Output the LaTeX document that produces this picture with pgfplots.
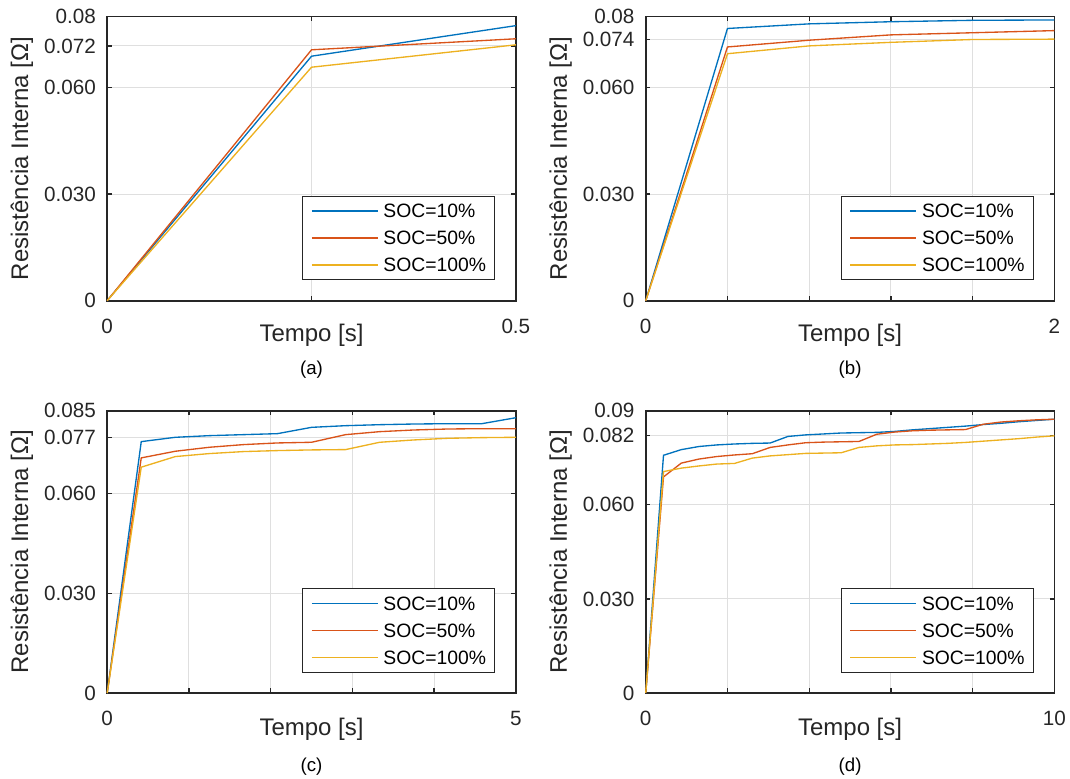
\documentclass[border=0pt]{standalone}
\usepackage{pgfplots}
\pgfplotsset{compat=1.18}
\usepackage{fontspec}
\setmainfont{Liberation Sans}
\definecolor{mblue}{RGB}{0,114,189}
\definecolor{mred}{RGB}{217,83,25}
\definecolor{myel}{RGB}{237,177,32}
\definecolor{axc}{RGB}{38,38,38}
\definecolor{gridc}{RGB}{223,223,223}
\tikzset{
 mylab/.style={font=\fontsize{18}{21}\selectfont, text=axc},
 mycapt/.style={font=\fontsize{14}{16}\selectfont, text=black, anchor=base},
}
\pgfplotsset{
 panel/.style={
  scale only axis, width=306.5pt, enlargelimits=false, clip=false,
  scaled y ticks=false, scaled x ticks=false,
  axis line style={axc, line width=1.3pt},
  every tick/.style={axc, line width=1pt}, major tick length=3.5pt,
  tick align=inside, tick pos=both,
  grid=major, major grid style={gridc, line width=0.8pt},
  /pgf/number format/assume math mode=true,
  tick label style={font=\fontsize{15.5}{18}\selectfont, text=axc},
  xticklabel style={anchor=base, inner sep=0pt, yshift=-24.5pt},
  yticklabel style={anchor=east, inner sep=0pt, xshift=-8.25pt},
  legend cell align=left,
  legend style={draw=axc, line width=0.6pt, fill=white,
    font=\fontsize{14.5}{17}\selectfont, text=black,
    at={(1,0)}, anchor=south east, xshift=-15.75pt, yshift=15.5pt,
    inner xsep=6.25pt, inner ysep=5.8pt, row sep=9.8pt,
    nodes={inner sep=0pt, text height=10.4pt, text depth=0pt},
    /tikz/every odd column/.append style={column sep=3.75pt}},
  legend image code/.code={\draw[#1] (0pt,0pt) -- (49.5pt,0pt);},
  every axis plot/.append style={line width=1pt},
 },
}
\begin{document}
\begin{tikzpicture}
\useasboundingbox (0,0) rectangle (802.5pt,583.5pt);
% (a)
\begin{axis}[panel, at={(80.4pt,358pt)}, anchor=south west, height=213.2pt,
  xmin=0, xmax=0.5, ymin=0, ymax=0.08,
  xtick={0,0.25,0.5}, xticklabels={0,,0.5},
  ytick={0,0.03,0.06,0.0717,0.08}, yticklabels={0,0.030,0.060,0.072,0.08}]
\addplot[mblue] coordinates {(0,0) (0.25,0.0688) (0.5,0.0774)};
\addplot[mred] coordinates {(0,0) (0.25,0.0706) (0.5,0.0737)};
\addplot[myel] coordinates {(0,0) (0.25,0.0657) (0.5,0.0720)};
\legend{SOC=10\%,SOC=50\%,SOC=100\%}
\node[mylab, anchor=base, yshift=-30.75pt] at (axis description cs:0.5,0) {Tempo [s]};
\node[mylab, rotate=90, anchor=center] at (axis description cs:-0.2085,0.5) {Resistência Interna [Ω]};
\node[mycapt, yshift=-55.7pt] at (axis description cs:0.5,0) {(a)};
\end{axis}
% (b)
\begin{axis}[panel, at={(484.3pt,358pt)}, anchor=south west, height=213.2pt,
  xmin=0, xmax=2, ymin=0, ymax=0.08,
  xtick={0,0.4,0.8,1.2,1.6,2}, xticklabels={0,,,,,2},
  ytick={0,0.03,0.06,0.0735,0.08}, yticklabels={0,0.030,0.060,0.074,0.08}]
\addplot[mblue] coordinates {(0,0) (0.4,0.0766) (0.8,0.0779) (1.2,0.0785) (1.6,0.0789) (2,0.0790)};
\addplot[mred] coordinates {(0,0) (0.4,0.0714) (0.8,0.0733) (1.2,0.0748) (1.6,0.0754) (2,0.0760)};
\addplot[myel] coordinates {(0,0) (0.4,0.0695) (0.8,0.0717) (1.2,0.0727) (1.6,0.0735) (2,0.0736)};
\legend{SOC=10\%,SOC=50\%,SOC=100\%}
\node[mylab, anchor=base, yshift=-30.75pt] at (axis description cs:0.5,0) {Tempo [s]};
\node[mylab, rotate=90, anchor=center] at (axis description cs:-0.2085,0.5) {Resistência Interna [Ω]};
\node[mycapt, yshift=-55.7pt] at (axis description cs:0.5,0) {(b)};
\end{axis}
% (c)
\begin{axis}[panel, at={(80.4pt,63.75pt)}, anchor=south west, height=211.7pt,
  xmin=0, xmax=5, ymin=0, ymax=0.085,
  xtick={0,1,2,3,4,5}, xticklabels={0,,,,,5},
  ytick={0,0.03,0.06,0.077,0.085}, yticklabels={0,0.030,0.060,0.077,0.085}]
\addplot[mblue] coordinates {(0,0) (0.4167,0.0757) (0.8333,0.0770) (1.25,0.0775) (1.6667,0.0778) (2.0833,0.0781) (2.5,0.0800) (2.9167,0.0805) (3.3333,0.0808) (3.75,0.0810) (4.1667,0.0811) (4.5833,0.0811) (5,0.0829)};
\addplot[mred] coordinates {(0,0) (0.4167,0.0708) (0.8333,0.0728) (1.25,0.0740) (1.6667,0.0748) (2.0833,0.0753) (2.5,0.0755) (2.9167,0.0778) (3.3333,0.0787) (3.75,0.0792) (4.1667,0.0795) (4.5833,0.0796) (5,0.0796)};
\addplot[myel] coordinates {(0,0) (0.4167,0.0680) (0.8333,0.0712) (1.25,0.0721) (1.6667,0.0727) (2.0833,0.0730) (2.5,0.0732) (2.9167,0.0733) (3.3333,0.0755) (3.75,0.0762) (4.1667,0.0767) (4.5833,0.0769) (5,0.0770)};
\legend{SOC=10\%,SOC=50\%,SOC=100\%}
\node[mylab, anchor=base, yshift=-31.5pt] at (axis description cs:0.5,0) {Tempo [s]};
\node[mylab, rotate=90, anchor=center] at (axis description cs:-0.2085,0.5) {Resistência Interna [Ω]};
\node[mycapt, yshift=-59pt] at (axis description cs:0.5,0) {(c)};
\end{axis}
% (d)
\begin{axis}[panel, at={(484.3pt,63.75pt)}, anchor=south west, height=211.7pt,
  xmin=0, xmax=10, ymin=0, ymax=0.09,
  xtick={0,2,4,6,8,10}, xticklabels={0,,,,,10},
  ytick={0,0.03,0.06,0.082,0.09}, yticklabels={0,0.030,0.060,0.082,0.09}]
\addplot[mblue] coordinates {(0,0) (0.4348,0.0758) (0.8696,0.0776) (1.3043,0.0786) (1.7391,0.0791) (2.1739,0.0794) (2.6087,0.0796) (3.0435,0.0797) (3.4783,0.0818) (3.9130,0.0823) (4.3478,0.0826) (4.7826,0.0829) (5.2174,0.0830) (5.6522,0.0831) (6.0870,0.0834) (6.5217,0.0839) (6.9565,0.0843) (7.3913,0.0847) (7.8261,0.0851) (8.2609,0.0856) (8.6957,0.0860) (9.1304,0.0865) (9.5652,0.0869) (10,0.0873)};
\addplot[mred] coordinates {(0,0) (0.4348,0.0689) (0.8696,0.0733) (1.3043,0.0746) (1.7391,0.0754) (2.1739,0.0759) (2.6087,0.0763) (3.0435,0.0783) (3.4783,0.0791) (3.9130,0.0798) (4.3478,0.0800) (4.7826,0.0801) (5.2174,0.0802) (5.6522,0.0825) (6.0870,0.0832) (6.5217,0.0836) (6.9565,0.0838) (7.3913,0.0839) (7.8261,0.0840) (8.2609,0.0857) (8.6957,0.0864) (9.1304,0.0868) (9.5652,0.0871) (10,0.0873)};
\addplot[myel] coordinates {(0,0) (0.4348,0.0706) (0.8696,0.0717) (1.3043,0.0724) (1.7391,0.0730) (2.1739,0.0732) (2.6087,0.0749) (3.0435,0.0756) (3.4783,0.0760) (3.9130,0.0764) (4.3478,0.0765) (4.7826,0.0766) (5.2174,0.0783) (5.6522,0.0788) (6.0870,0.0791) (6.5217,0.0792) (6.9565,0.0794) (7.3913,0.0796) (7.8261,0.0799) (8.2609,0.0803) (8.6957,0.0807) (9.1304,0.0811) (9.5652,0.0816) (10,0.0820)};
\legend{SOC=10\%,SOC=50\%,SOC=100\%}
\node[mylab, anchor=base, yshift=-31.5pt] at (axis description cs:0.5,0) {Tempo [s]};
\node[mylab, rotate=90, anchor=center] at (axis description cs:-0.2085,0.5) {Resistência Interna [Ω]};
\node[mycapt, yshift=-59pt] at (axis description cs:0.5,0) {(d)};
\end{axis}
\end{tikzpicture}
\end{document}
